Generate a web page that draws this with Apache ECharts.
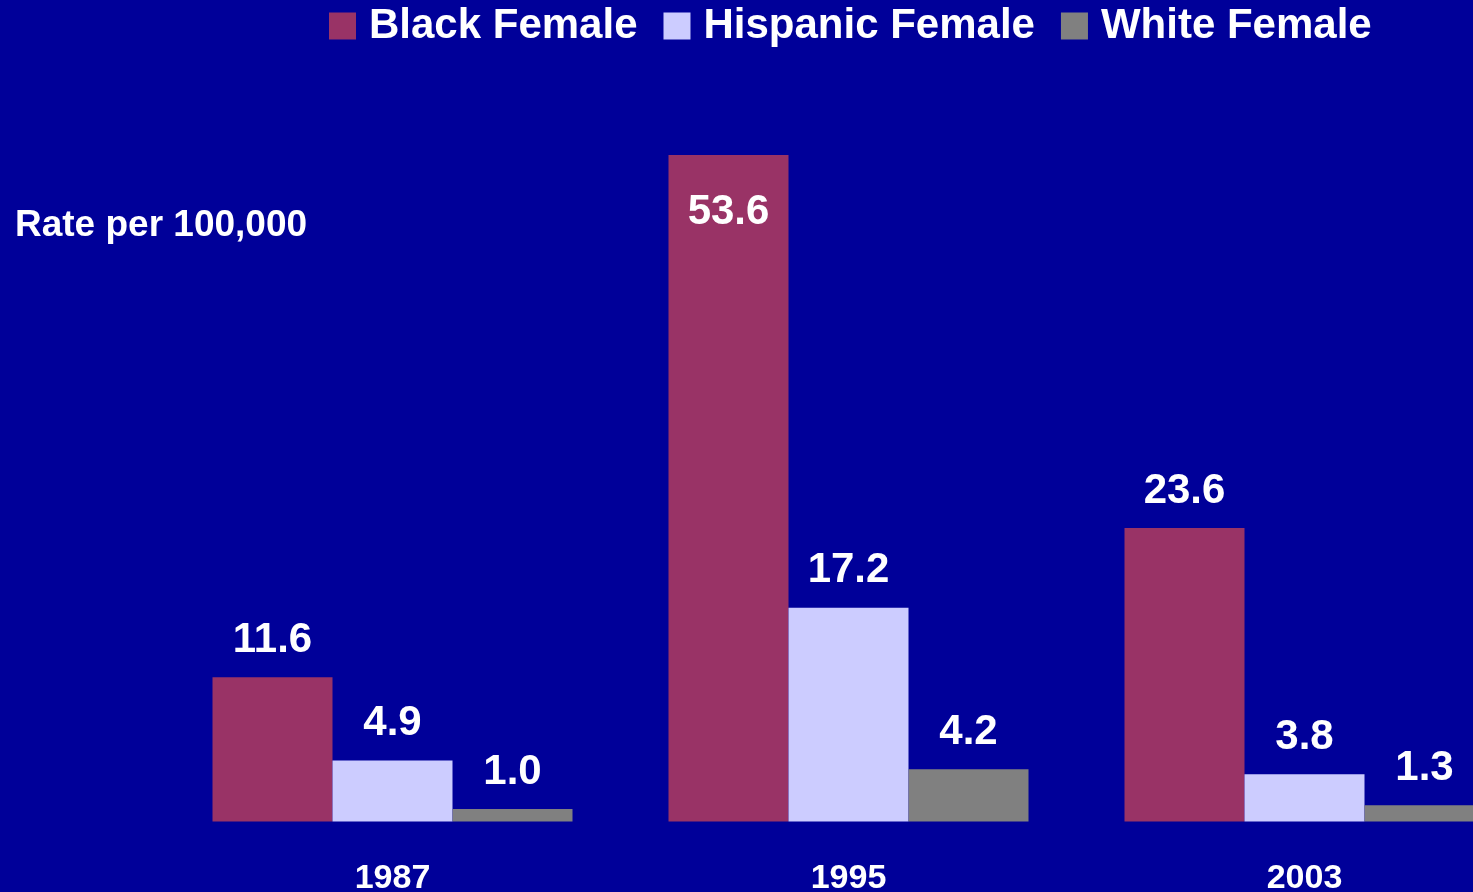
<!DOCTYPE html>
<html>
<head>
<meta charset="utf-8">
<script src="https://cdn.jsdelivr.net/npm/echarts@6/dist/echarts.min.js"></script>
<style>
html,body{margin:0;padding:0;background:#000099;}
#chart{width:1473px;height:892px;}
</style>
</head>
<body>
<div id="chart"></div>
<script>
const categories = ['1987', '1995', '2003'];
const seriesNames = ['Black Female', 'Hispanic Female', 'White Female'];
const blackFemale = [11.6, 53.6, 23.6];
const hispanicFemale = [4.9, 17.2, 3.8];
const whiteFemale = [1.0, 4.2, 1.3];
const yAxisTitle = 'Rate per 100,000';

const FONT = '"Liberation Sans", Arial, sans-serif';
const colors = ['#993366', '#CCCCFF', '#808080'];

const chart = echarts.init(document.getElementById('chart'), null, {renderer: 'canvas'});

function makeSeries(name, values, color, insideIdx) {
  return {
    name: name,
    type: 'bar',
    barWidth: 120,
    barGap: '0%',
    itemStyle: {color: color},
    label: {
      show: true,
      position: 'top',
      distance: 16,
      color: '#ffffff',
      fontFamily: FONT,
      fontWeight: 'bold',
      fontSize: 42,
      formatter: p => Number(p.value).toFixed(1)
    },
    data: values.map((v, i) => i === insideIdx
      ? {value: v, label: {position: 'insideTop', distance: 36}}
      : v)
  };
}

chart.setOption({
  backgroundColor: '#000099',
  animation: false,
  legend: {
    data: seriesNames,
    left: 324,
    top: 0,
    itemWidth: 27,
    itemHeight: 27,
    itemGap: 26,
    icon: 'rect',
    textStyle: {
      color: '#ffffff',
      fontFamily: FONT,
      fontWeight: 'bold',
      fontSize: 42,
      padding: [0, 0, 0, 8]
    }
  },
  graphic: [{
    type: 'text',
    left: 15,
    top: 207,
    style: {
      text: yAxisTitle,
      fill: '#ffffff',
      font: 'bold 37px "Liberation Sans", Arial, sans-serif'
    }
  }],
  grid: {
    left: 164.5,
    width: 1368,
    top: 75.5,
    bottom: 70.5,
    containLabel: false,
    outerBoundsMode: 'none'
  },
  xAxis: {
    type: 'category',
    data: categories,
    axisLine: {show: false},
    axisTick: {show: false},
    axisLabel: {
      color: '#ffffff',
      fontFamily: FONT,
      fontWeight: 'bold',
      fontSize: 34,
      margin: 40
    }
  },
  yAxis: {
    type: 'value',
    min: 0,
    max: 60,
    show: false,
    splitLine: {show: false}
  },
  series: [
    makeSeries(seriesNames[0], blackFemale, colors[0], 1),
    makeSeries(seriesNames[1], hispanicFemale, colors[1], -1),
    makeSeries(seriesNames[2], whiteFemale, colors[2], -1)
  ]
});
</script>
</body>
</html>
